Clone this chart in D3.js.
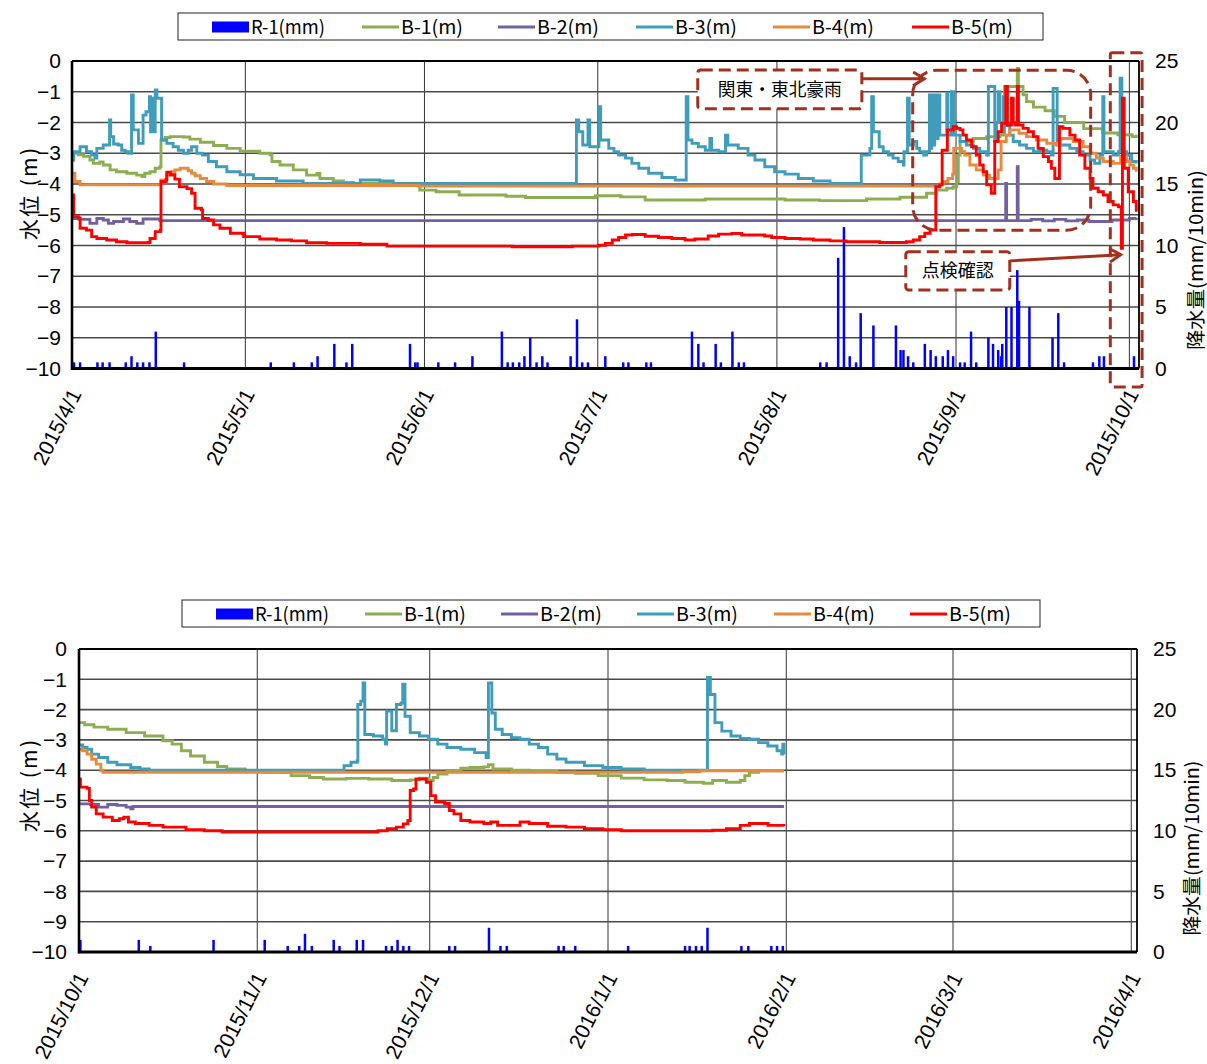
<!DOCTYPE html>
<html><head><meta charset="utf-8">
<script src="https://cdn.jsdelivr.net/npm/d3@7"></script>
<style>body{margin:0;background:#fff}</style>
</head><body>
<svg id="c" width="1207" height="1064"></svg>
<script>
// ---------------- DATA ----------------
const seriesNames = ["R-1(mm)", "B-1(m)", "B-2(m)", "B-3(m)", "B-4(m)", "B-5(m)"];
const leftTicks = [0, -1, -2, -3, -4, -5, -6, -7, -8, -9, -10];
const rightTicks = [0, 5, 10, 15, 20, 25];
const topMonths = ["2015/4/1", "2015/5/1", "2015/6/1", "2015/7/1", "2015/8/1", "2015/9/1", "2015/10/1"];
const botMonths = ["2015/10/1", "2015/11/1", "2015/12/1", "2016/1/1", "2016/2/1", "2016/3/1", "2016/4/1"];
const leftTitle = "水位 (m)";
const rightTitle = "降水量(mm/10min)";
const note1 = "関東・東北豪雨";
const note2 = "点検確認";

// [days since 2015/4/1, value]
const topR1 = [[0.35,0.5],[1.4,0.5],[4.4,0.5],[5.3,0.5],[6.5,0.5],[9.3,0.5],[10.3,1.0],[11.3,0.5],[12.3,0.5],[13.4,0.5],[14.5,3.0],[19.4,0.5],[34.4,0.5],[38.4,0.5],[41.5,0.5],[42.5,1.0],[45.4,2.0],[47.5,0.5],[48.5,2.0],[58.5,2.0],[59.4,0.5],[59.8,0.5],[63.4,0.5],
 [66.3,0.5],[69.3,1.0],[74.4,3.0],[75.4,0.5],[76.3,0.5],[77.4,0.5],[78.3,1.0],[79.3,2.5],[80.4,0.5],[81.4,1.0],[82.3,0.5],[86.3,1.0],[87.4,4.0],[88.3,0.5],[89.3,0.5],[92.3,1.0],[95.4,0.5],[96.3,0.5],[99.4,0.5],[100.2,0.5],[107.3,3.0],[108.4,2.0],[109.3,0.5],[111.4,2.0],[112.3,0.5],[114.3,3.0],[115.4,0.5],[116.3,0.5],
 [129.5,0.5],[130.6,0.5],[132.6,9.0],[133.6,11.5],[134.6,1.0],[135.7,0.5],[136.5,4.5],[138.7,3.5],[142.6,3.5],[143.4,1.5],[143.9,1.5],[144.7,1.0],[145.6,0.5],[147.6,2.0],[148.6,1.5],[149.5,1.0],[150.7,1.0],[151.6,1.5],[152.5,1.0],[153.7,0.5],[154.5,0.5],[155.6,3.0],[156.5,0.5],[158.6,2.5],[159.4,2.0],[160.3,1.5],[160.8,1.0],[161.0,2.0],[161.7,5.0],[162.6,5.0],[163.6,8.0],[163.9,5.5],[165.7,5.0],[169.7,2.5],[170.7,4.5],[171.7,0.5],[176.7,0.5],[177.8,1.0],[178.6,1.0],[183.8,1.0]];
const topB1 = [[0,-3.0],[1.1,-3.05],[2.0,-3.1],[3.1,-3.22],[3.7,-3.33],[4.8,-3.28],[5.4,-3.38],[6.6,-3.54],[7.7,-3.6],[9.5,-3.65],[11.2,-3.71],[12.1,-3.76],[12.6,-3.65],[13.5,-3.6],[14.4,-3.49],[15.2,-3.44],[15.4,-2.57],[16.1,-2.49],[17.0,-2.46],[19.3,-2.47],[20.4,-2.54],[22.2,-2.64],[24.5,-2.75],[26.8,-2.84],[29.1,-2.93],[32.5,-3.0],[34.3,-3.05],[34.6,-3.27],[36.0,-3.38],[38.3,-3.54],[40.6,-3.71],[42.4,-3.66],[42.9,-3.82],[45.2,-3.9],[47.0,-3.95],[48.7,-3.98],[53.3,-3.98],[55.6,-4.03],[60.2,-4.2],[63,-4.25],[67,-4.36],[75.1,-4.4],[78.5,-4.44],[88.9,-4.44],[90.6,-4.38],[95,-4.42],[99.2,-4.52],[109.6,-4.49],[123.4,-4.52],[129.4,-4.54],[137.5,-4.49],[143.3,-4.43],[147.9,-4.3],[149.6,-4.2],[151.4,-4.14],[152.5,-4.09],[153.1,-3.92],[153.4,-3.06],[153.7,-2.62],[156,-2.52],[158.3,-2.46],[160.6,-2.41],[161.4,-0.83],[163.3,-0.83],[163.6,-0.24],[163.8,-0.83],[164.6,-1.1],[165.2,-1.32],[166.4,-1.5],[168.4,-1.62],[170,-1.8],[171.8,-2.0],[175.1,-2.2],[178.4,-2.34],[181,-2.4],[183.5,-2.46],[184.2,-2.4]];
const topB2 = [[0,-5.12],[1.2,-5.15],[3.1,-5.28],[4.3,-5.12],[5.4,-5.17],[6.3,-5.28],[7.2,-5.22],[8.9,-5.14],[10,-5.22],[11.2,-5.28],[12.3,-5.14],[14.1,-5.14],[15.2,-5.19],[161.5,-5.19],[161.6,-3.98],[161.75,-5.19],[163.55,-5.19],[163.6,-3.44],[163.75,-5.19],[166,-5.15],[168,-5.2],[170,-5.15],[172,-5.2],[174,-5.17],[176,-5.22],[180,-5.17],[183,-5.12],[184.2,-5.1]];
const topB3 = [[0,-3.22],[0.3,-2.95],[1.4,-2.79],[2.5,-2.95],[3.4,-3.06],[4.0,-3.16],[4.3,-2.84],[5.4,-2.73],[6.5,-1.92],[6.7,-2.46],[7.2,-2.7],[8.0,-2.73],[8.6,-2.9],[9.2,-2.95],[9.75,-3.0],[10.3,-1.1],[10.6,-2.24],[11.5,-2.68],[12.3,-1.76],[12.8,-1.65],[13.4,-1.16],[13.6,-2.3],[14.0,-1.21],[14.1,-2.3],[14.4,-0.94],[14.7,-1.21],[15.5,-2.57],[16.4,-2.68],[17.5,-2.79],[18.4,-2.9],[19.3,-3.0],[20.1,-2.9],[20.7,-2.79],[21.6,-3.0],[22.6,-3.06],[23.6,-3.27],[25.0,-3.44],[26.8,-3.6],[29.1,-3.7],[31.4,-3.82],[35.4,-3.9],[40,-3.98],[49.9,-3.87],[53.3,-3.9],[55.6,-3.98],[87.3,-1.92],[87.7,-2.3],[88.4,-2.73],[89.3,-1.92],[89.6,-2.79],[91.2,-1.49],[91.5,-2.57],[92.9,-2.84],[93.8,-2.95],[94.6,-3.06],[95.8,-3.16],[96.9,-3.33],[98.1,-3.49],[99.8,-3.65],[102.1,-3.79],[104.4,-3.87],[106.3,-1.16],[106.6,-2.57],[107.3,-2.68],[108.4,-2.79],[109.6,-2.9],[110.4,-2.52],[110.7,-2.9],[111.9,-2.95],[113.1,-2.41],[113.5,-2.73],[115.3,-2.84],[117.0,-3.06],[118.2,-3.22],[119.9,-3.44],[121.6,-3.6],[123.4,-3.68],[125.7,-3.82],[128.3,-3.9],[131.2,-3.98],[136.6,-3.06],[138.1,-2.84],[138.4,-1.16],[138.7,-2.3],[139.7,-2.79],[140.4,-2.95],[141.3,-3.06],[142.1,-3.16],[143,-3.27],[143.9,-3.38],[144.0,-2.95],[144.6,-1.21],[144.9,-2.73],[145.6,-2.62],[146.2,-2.84],[146.7,-2.95],[147.4,-3.06],[147.9,-2.95],[148.4,-1.1],[148.6,-2.84],[148.8,-1.1],[149.0,-2.73],[149.3,-1.1],[149.6,-2.52],[149.9,-1.1],[150.2,-2.41],[151.4,-1.05],[151.6,-2.41],[152.2,-1.0],[152.7,-2.41],[153.7,-2.62],[154.8,-2.73],[156,-2.84],[157.1,-2.95],[158.3,-3.06],[158.6,-0.83],[159.7,-2.62],[160,-2.0],[160.3,-1.0],[160.6,-2.0],[160.9,-2.3],[161.2,-1.16],[161.7,-2.1],[162.3,-2.41],[162.9,-2.62],[164.0,-2.73],[165.2,-2.84],[166.4,-2.95],[167.5,-2.9],[168.7,-2.95],[169.5,-3.06],[169.8,-0.89],[170.5,-2.73],[171.5,-2.73],[172.7,-2.84],[173.9,-2.95],[175,-3.06],[176.2,-3.22],[177,-3.33],[177.9,-3.06],[178.4,-1.16],[178.6,-2.95],[179.6,-2.95],[180.2,-3.06],[181.1,-2.95],[181.4,-0.56],[181.7,-2.95],[182.5,-3.06],[183.4,-3.27],[184.2,-3.33]];
const topB4 = [[0,-3.65],[0.5,-3.92],[1.4,-4.03],[15.2,-4.03],[15.4,-3.87],[16.4,-3.71],[17.3,-3.6],[17.8,-3.54],[18.7,-3.49],[20.1,-3.57],[20.7,-3.65],[21.3,-3.73],[22.2,-3.82],[23.3,-3.92],[24.5,-4.0],[26.8,-4.05],[60,-4.07],[149.6,-4.07],[150.2,-4.0],[150.8,-3.92],[151.6,-3.82],[152.4,-3.68],[152.6,-2.84],[154,-2.95],[154.5,-3.06],[155.4,-3.38],[156.5,-3.54],[157.7,-3.71],[158.8,-3.82],[160.3,-3.54],[160.8,-2.62],[161.7,-2.41],[162.3,-2.24],[163.9,-2.35],[165.2,-2.46],[166.9,-2.57],[168.7,-2.68],[170.4,-2.73],[171,-2.52],[173.3,-2.62],[175,-2.79],[176.2,-3.0],[177.3,-3.16],[178.5,-3.27],[180.2,-3.33],[181.5,-3.1],[182.5,-3.27],[183.1,-3.38],[183.7,-3.49],[184.2,-3.6]];
const topB5 = [[0,-4.36],[0.3,-5.06],[1.1,-5.1],[1.4,-5.44],[2.5,-5.5],[3.4,-5.71],[4.3,-5.77],[6.0,-5.82],[7.7,-5.88],[9.5,-5.91],[13.2,-5.9],[13.5,-5.77],[14.4,-5.55],[15.3,-5.5],[15.4,-3.92],[16.3,-3.85],[16.4,-3.62],[17.0,-3.7],[17.8,-3.84],[18.6,-4.09],[19.9,-4.15],[20.7,-4.3],[21.3,-4.79],[22.4,-4.84],[22.6,-5.12],[23.6,-5.17],[24.5,-5.33],[25.6,-5.44],[27.4,-5.6],[29.7,-5.71],[32.5,-5.79],[35.4,-5.82],[38,-5.85],[40.6,-5.91],[44.1,-5.93],[49.9,-5.96],[54.5,-6.02],[76.2,-6.04],[86.6,-6.02],[91.2,-5.99],[92.3,-5.93],[93.5,-5.82],[94.6,-5.74],[95.8,-5.66],[97,-5.64],[99.2,-5.7],[101.5,-5.74],[103.8,-5.77],[106.1,-5.82],[107.8,-5.79],[110.1,-5.69],[111.9,-5.63],[114.2,-5.61],[115.9,-5.66],[119.9,-5.69],[121.1,-5.74],[123.4,-5.77],[126,-5.79],[128.3,-5.82],[131.2,-5.85],[134,-5.88],[139.8,-5.9],[144.4,-5.88],[145.6,-5.82],[146.7,-5.71],[147.6,-5.6],[148.5,-5.5],[149.5,-4.09],[150.2,-4.03],[150.6,-2.9],[151.5,-2.24],[152.5,-2.14],[153.1,-2.19],[153.7,-2.24],[154.2,-2.41],[154.8,-2.57],[155.7,-2.79],[156.5,-3.06],[157.1,-3.38],[157.7,-3.6],[158.3,-4.03],[159.1,-4.3],[159.7,-2.62],[160.3,-2.3],[160.9,-2.03],[161.6,-0.83],[161.9,-2.08],[162.6,-1.21],[162.9,-2.0],[163.2,-2.08],[163.6,-0.83],[163.8,-2.08],[164.6,-2.19],[165.5,-2.3],[166.4,-2.46],[167.2,-2.84],[168.1,-3.11],[169,-3.27],[169.5,-3.49],[170.1,-3.82],[170.9,-2.14],[171.5,-2.19],[172.7,-2.41],[173.6,-2.57],[174.4,-3.06],[175.3,-3.49],[176.2,-3.82],[176.7,-4.14],[177.6,-4.25],[178.5,-4.36],[179.3,-4.57],[180.2,-4.68],[181.1,-4.74],[181.6,-6.09],[181.8,-1.21],[182.1,-3.49],[182.8,-4.25],[183.7,-4.57],[184.2,-4.9]];

// [days since 2015/10/1, value]
const botR1 = [[0.24,1.0],[10.4,1.0],[12.4,0.5],[23.4,1.0],[32.3,1.0],[36.3,0.5],[38.3,0.5],[39.3,1.5],[40.5,0.5],[44.3,1.0],[45.3,0.5],[48.3,1.0],[49.4,1.0],[53.4,0.5],[54.4,0.5],[55.4,1.0],[56.4,0.5],[57.4,0.5],[64.4,0.5],[65.4,0.5],[71.3,2.0],[73.3,0.5],[74.4,0.5],[83.4,0.5],[84.3,0.5],[86.3,0.5],[95.5,0.5],[105.4,0.5],[106.2,0.5],[107.3,0.5],[108.3,0.5],[109.3,2.0],[115.2,0.5],[116.4,0.5],[120.4,0.5],[121.4,0.5],[122.4,0.5]];
const botB1 = [[0,-2.43],[1,-2.5],[2.6,-2.58],[5,-2.65],[8.2,-2.76],[11.4,-2.87],[14.6,-3.03],[16.2,-3.14],[17.8,-3.36],[19.4,-3.53],[21.8,-3.74],[24.1,-3.88],[25.7,-3.96],[28.9,-4.02],[32.1,-4.07],[36.9,-4.18],[40.1,-4.24],[42.5,-4.29],[46.5,-4.27],[50.4,-4.29],[54.4,-4.34],[57.6,-4.32],[59.2,-4.26],[60.8,-4.34],[61.6,-4.24],[62.4,-4.13],[64,-4.02],[66.4,-3.93],[68,-3.91],[70.4,-3.89],[71.2,-3.82],[72,-3.96],[75.2,-4.0],[78.3,-4.04],[83.1,-4.07],[86.3,-4.1],[90.3,-4.18],[94.3,-4.26],[98.3,-4.32],[102.3,-4.34],[105.4,-4.4],[108.6,-4.43],[110.2,-4.34],[112.6,-4.4],[115,-4.34],[115.8,-4.18],[116.6,-4.07],[118.2,-4.02],[122.6,-4.02]];
const botB2 = [[0,-5.11],[2,-5.13],[3.4,-5.22],[5,-5.13],[6.6,-5.16],[8.2,-5.22],[9,-5.27],[9.4,-5.2],[122.6,-5.2]];
const botB3 = [[0,-3.17],[0.64,-3.25],[1.4,-3.31],[2.2,-3.47],[3.4,-3.58],[5,-3.74],[6.6,-3.82],[9,-3.91],[10.6,-3.96],[12.2,-4.0],[46.1,-3.85],[47.3,-3.74],[48.4,-3.69],[48.5,-1.83],[49,-1.72],[49.4,-1.12],[49.7,-2.82],[51.2,-2.87],[52.8,-2.98],[53.3,-3.14],[53.5,-2.05],[54.4,-2.7],[55.2,-1.83],[56,-1.78],[56.3,-1.16],[56.7,-2.22],[57.6,-2.76],[59.2,-2.87],[60.8,-2.98],[62.4,-3.14],[64,-3.25],[66.4,-3.31],[68.8,-3.42],[70.8,-3.58],[71.2,-1.12],[71.8,-2.11],[72.4,-2.65],[73.6,-2.82],[75.2,-2.93],[76.7,-2.98],[78.3,-3.14],[79.9,-3.25],[81.5,-3.47],[83.1,-3.63],[84.7,-3.74],[87.9,-3.85],[91.1,-3.91],[94.3,-3.96],[98.3,-4.0],[109.3,-0.94],[109.8,-1.5],[110.6,-2.43],[111.8,-2.71],[113.4,-2.87],[115,-2.95],[116.6,-2.98],[118.2,-3.09],[119.8,-3.2],[121.4,-3.36],[122.2,-3.47],[122.4,-3.14],[122.6,-3.47]];
const botB4 = [[0,-3.31],[0.64,-3.36],[1.4,-3.47],[2.2,-3.64],[3,-3.8],[3.8,-4.02],[4.2,-4.07],[105,-4.05],[108,-4.02],[122.6,-4.02]];
const botB5 = [[0,-4.29],[0.24,-4.56],[1.4,-4.6],[1.8,-5.0],[2.2,-5.22],[3,-5.44],[4.2,-5.55],[5.8,-5.66],[7,-5.6],[7.8,-5.55],[8.6,-5.71],[9.8,-5.76],[12.2,-5.82],[14.6,-5.88],[18.6,-5.96],[21.8,-6.0],[24.9,-6.04],[50.4,-6.04],[52,-6.0],[53.6,-5.93],[55.2,-5.88],[56.4,-5.77],[57.2,-5.66],[57.6,-4.67],[58.2,-4.62],[58.6,-4.29],[60,-4.29],[60.4,-4.4],[61.2,-4.84],[62,-5.05],[63.6,-5.1],[64.4,-5.33],[65.2,-5.44],[66.4,-5.66],[68,-5.71],[70.4,-5.76],[71.6,-5.71],[72.8,-5.82],[75.2,-5.82],[76.7,-5.71],[78.3,-5.76],[81.5,-5.85],[84.7,-5.88],[87.9,-5.93],[91.1,-5.96],[94.3,-6.0],[108.6,-6.0],[110.2,-5.98],[112.6,-5.93],[115,-5.82],[116.6,-5.76],[119.8,-5.82],[122.6,-5.85]];

// ---------------- STYLE ----------------
const lineColors = ["#8DAE50", "#7460A0", "#3F9DBB", "#E88A3E", "#FF0000"];
const rainColor = "#0000FF";
const noteColor = "#A3301E";
const numFont = "'Liberation Sans Narrow','Liberation Sans',Arial,sans-serif";
const jpFont = "'Noto Sans CJK JP','Noto Sans',sans-serif";

const svg = d3.select("#c");
const parseDay = s => { const [y, m, d] = s.split("/").map(Number); return new Date(Date.UTC(y, m - 1, d)); };

function drawChart(o) {
  const g = svg.append("g");
  const x = d3.scaleUtc().domain([o.start, o.end]).range([o.L, o.R]);
  const y = d3.scaleLinear().domain([-10, 0]).range([o.B, o.T]);
  const y2 = d3.scaleLinear().domain([0, 25]).range([o.B, o.T]);
  const t = d => new Date(o.start.getTime() + d * 864e5);
  const clipId = "clip" + o.id;
  svg.append("clipPath").attr("id", clipId).append("rect")
    .attr("x", o.L).attr("y", o.T - 2).attr("width", o.R - o.L).attr("height", o.B - o.T + 2);

  g.append("g").selectAll("line").data(o.months.map(parseDay)).join("line")
    .attr("x1", d => x(d)).attr("x2", d => x(d)).attr("y1", o.T).attr("y2", o.B)
    .attr("stroke", "#333").attr("stroke-width", 1);
  g.append("g").selectAll("line").data(leftTicks).join("line")
    .attr("x1", o.L).attr("x2", o.R).attr("y1", d => y(d)).attr("y2", d => y(d))
    .attr("stroke", "#4a4a4a").attr("stroke-width", 1.6);

  g.append("g").attr("clip-path", `url(#${clipId})`).selectAll("rect").data(o.rain).join("rect")
    .attr("x", d => x(t(d[0])) - 1.25).attr("width", 2.5)
    .attr("y", d => y2(d[1])).attr("height", d => y2(0) - y2(d[1]))
    .attr("fill", rainColor);

  const line = d3.line().x(d => x(t(d[0]))).y(d => y(d[1])).curve(d3.curveStepAfter);
  const lg = g.append("g").attr("clip-path", `url(#${clipId})`);
  o.lines.forEach((s, i) => {
    lg.append("path").datum(s).attr("d", line).attr("fill", "none")
      .attr("stroke", lineColors[i]).attr("stroke-width", 2.9);
  });

  g.append("line").attr("x1", o.L).attr("x2", o.R).attr("y1", o.T).attr("y2", o.T).attr("stroke", "#000").attr("stroke-width", 1.8);
  g.append("line").attr("x1", o.R).attr("x2", o.R).attr("y1", o.T).attr("y2", o.B).attr("stroke", "#000").attr("stroke-width", 1.8);
  g.append("line").attr("x1", o.L).attr("x2", o.L).attr("y1", o.T).attr("y2", o.B + 1.5).attr("stroke", "#000").attr("stroke-width", 2.6);
  g.append("line").attr("x1", o.L).attr("x2", o.R).attr("y1", o.B).attr("y2", o.B).attr("stroke", "#000").attr("stroke-width", 3);

  const ay = g.append("g").attr("transform", `translate(${o.L},0)`)
    .call(d3.axisLeft(y).tickValues(leftTicks).tickSize(0).tickPadding(o.padL).tickFormat(d => String(d).replace("-", "\u2212")));
  ay.select(".domain").remove();
  ay.selectAll("text").attr("font-family", numFont).attr("font-size", 21).attr("fill", "#000");

  const ay2 = g.append("g").attr("transform", `translate(${o.R},0)`)
    .call(d3.axisRight(y2).tickValues(rightTicks).tickSize(0).tickPadding(16));
  ay2.select(".domain").remove();
  ay2.selectAll("text").attr("font-family", numFont).attr("font-size", 21).attr("fill", "#000");

  const ax = g.append("g").attr("transform", `translate(0,${o.B})`)
    .call(d3.axisBottom(x).tickValues(o.months.map(parseDay)).tickSize(0).tickFormat((d, i) => o.months[i]));
  ax.select(".domain").remove();
  ax.selectAll("text").attr("font-family", numFont).attr("font-size", 21).attr("fill", "#000")
    .attr("x", 0).attr("y", 0).attr("dy", "0.35em").attr("text-anchor", "end")
    .attr("transform", `translate(3,${o.labDy}) rotate(-63)`);

  g.append("text").attr("transform", `translate(${o.ltX},${o.ltY}) rotate(-90)`)
    .attr("text-anchor", "middle").attr("font-family", jpFont).attr("font-size", 21)
    .attr("textLength", 92).attr("lengthAdjust", "spacing").text(leftTitle);
  g.append("text").attr("transform", `translate(${o.rtX},${o.rtY}) rotate(-90)`)
    .attr("text-anchor", "middle").attr("font-family", jpFont).attr("font-size", 19)
    .attr("textLength", o.rtLen).attr("lengthAdjust", "spacingAndGlyphs").text(rightTitle);

  const leg = g.append("g");
  leg.append("rect").attr("x", o.legX).attr("y", o.legY).attr("width", o.legW).attr("height", 27)
    .attr("fill", "#fff").attr("stroke", "#222").attr("stroke-width", 1);
  seriesNames.forEach((nm, i) => {
    const sx = o.legItems[i], cy = o.legY + 14;
    if (i === 0) leg.append("rect").attr("x", sx).attr("y", cy - 5.5).attr("width", 37).attr("height", 11).attr("fill", rainColor);
    else leg.append("line").attr("x1", sx).attr("x2", sx + 37).attr("y1", cy).attr("y2", cy).attr("stroke", lineColors[i - 1]).attr("stroke-width", 3);
    leg.append("text").attr("x", sx + 39).attr("y", cy).attr("dy", "0.36em")
      .attr("font-family", jpFont).attr("font-size", 19)
      .attr("textLength", i === 0 ? 74 : 62).attr("lengthAdjust", "spacingAndGlyphs").text(nm);
  });
  return {x, y, t};
}

const topC = drawChart({
  id: "a", start: parseDay("2015/4/1"), end: new Date(Date.UTC(2015, 9, 2, 16)),
  L: 72, R: 1139, T: 61, B: 368.5, months: topMonths, rain: topR1,
  lines: [topB1, topB2, topB3, topB4, topB5], padL: 11, labDy: 22,
  ltX: 37, ltY: 194, rtX: 1203, rtY: 260, rtLen: 180,
  legX: 178, legY: 13, legW: 865, legItems: [212, 362, 498, 636, 773, 912]
});
const botC = drawChart({
  id: "b", start: parseDay("2015/10/1"), end: new Date(Date.UTC(2016, 3, 2, 0)),
  L: 79, R: 1137, T: 649, B: 952, months: botMonths, rain: botR1,
  lines: [botB1, botB2, botB3, botB4, botB5], padL: 12, labDy: 22,
  ltX: 37, ltY: 786, rtX: 1199, rtY: 848, rtLen: 175,
  legX: 182, legY: 600, legW: 858, legItems: [216, 365, 501, 637, 774, 910]
});

// ---------------- ANNOTATIONS (top chart) ----------------
const ann = svg.append("g").attr("fill", "none").attr("stroke", noteColor).attr("stroke-width", 3).attr("stroke-dasharray", "12,6");
const X = d => topC.x(topC.t(d));
const Y = v => topC.y(v);
ann.append("rect").attr("x", X(145.5)).attr("y", Y(-0.3)).attr("width", X(176.3) - X(145.5)).attr("height", Y(-5.5) - Y(-0.3)).attr("rx", 24);
ann.append("rect").attr("x", X(179.7)).attr("y", Y(0.27)).attr("width", X(185.2) - X(179.7)).attr("height", Y(-10.6) - Y(0.27)).attr("rx", 2);
ann.append("rect").attr("x", X(108.3)).attr("y", Y(-0.29)).attr("width", X(136.7) - X(108.3)).attr("height", Y(-1.55) - Y(-0.29)).attr("rx", 3).attr("fill", "#fff");
ann.append("rect").attr("x", X(144.3)).attr("y", Y(-6.2)).attr("width", X(162.3) - X(144.3)).attr("height", Y(-7.45) - Y(-6.2)).attr("rx", 3).attr("fill", "#fff");
svg.append("text").attr("x", X(122.5)).attr("y", Y(-0.92)).attr("dy", "0.36em").attr("text-anchor", "middle")
  .attr("font-family", jpFont).attr("font-size", 18).attr("textLength", 124).attr("lengthAdjust", "spacingAndGlyphs").text(note1);
svg.append("text").attr("x", X(153.3)).attr("y", Y(-6.82)).attr("dy", "0.36em").attr("text-anchor", "middle")
  .attr("font-family", jpFont).attr("font-size", 18).text(note2);
const arr = svg.append("g").attr("fill", "none").attr("stroke", noteColor).attr("stroke-width", 3);
function arrow(x1, y1, x2, y2) {
  arr.append("line").attr("x1", x1).attr("y1", y1).attr("x2", x2).attr("y2", y2);
  const a = Math.atan2(y2 - y1, x2 - x1), L = 13, w = 0.55;
  arr.append("path").attr("d", `M${x2 - L * Math.cos(a - w)},${y2 - L * Math.sin(a - w)}L${x2},${y2}L${x2 - L * Math.cos(a + w)},${y2 - L * Math.sin(a + w)}`);
}
arrow(X(136.8), Y(-0.58), X(147.5), Y(-0.58));
arrow(X(162.3), Y(-6.5), X(181.5), Y(-6.3));
</script>
</body></html>
